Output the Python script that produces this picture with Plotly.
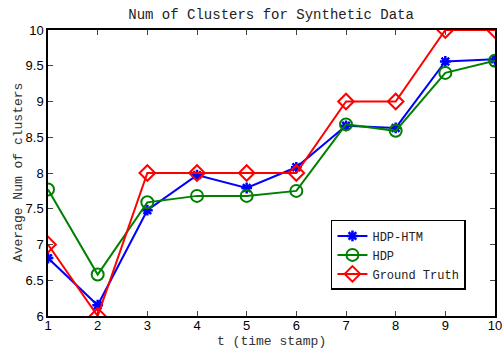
import plotly.graph_objects as go

t = [1, 2, 3, 4, 5, 6, 7, 8, 9, 10]
hdp_htm = [6.81, 6.15, 7.48, 7.97, 7.79, 8.08, 8.66, 8.63, 9.56, 9.59]
hdp = [7.77, 6.58, 7.59, 7.68, 7.68, 7.75, 8.68, 8.59, 9.40, 9.57]
ground_truth = [7, 6, 8, 8, 8, 8, 9, 9, 10, 10]

mono = "Liberation Mono, Courier New, monospace"
sans = "Liberation Sans, Arial, sans-serif"

fig = go.Figure()
fig.add_trace(go.Scatter(
    x=t, y=hdp_htm, name="HDP-HTM", mode="lines+markers",
    line=dict(color="#0000ff", width=2),
    marker=dict(symbol="asterisk-open", size=9, color="#0000ff",
                line=dict(color="#0000ff", width=2.5)),
))
fig.add_trace(go.Scatter(
    x=t, y=hdp, name="HDP", mode="lines+markers",
    line=dict(color="#008000", width=2),
    marker=dict(symbol="circle-open", size=12, color="#008000",
                line=dict(color="#008000", width=2)),
))
fig.add_trace(go.Scatter(
    x=t, y=ground_truth, name="Ground Truth", mode="lines+markers",
    line=dict(color="#ff0000", width=2),
    marker=dict(symbol="diamond-open", size=12, color="#ff0000",
                line=dict(color="#ff0000", width=2)),
))

axis_common = dict(
    ticks="inside", ticklen=5, showline=True, linecolor="black", linewidth=1.5,
    mirror="ticks", showgrid=False, zeroline=False, automargin=False,
    tickfont=dict(family=sans, size=13, color="black"),
    ticklabeloverflow="allow",
)

fig.update_layout(
    width=502, height=350,
    margin=dict(l=48, r=7, t=30, b=34),
    paper_bgcolor="white", plot_bgcolor="white",
    title=dict(text="Num of Clusters for Synthetic Data", x=0.54, xanchor="center",
               y=0.96, yanchor="middle",
               font=dict(family=mono, size=14, color="#222")),
    xaxis=dict(range=[1, 10], tickvals=t, ticklabelstandoff=-3, **axis_common),
    yaxis=dict(range=[6, 10], dtick=0.5, **axis_common),
    legend=dict(x=0.633, y=0.336, xanchor="left", yanchor="top",
                bgcolor="white", bordercolor="black", borderwidth=1.5,
                font=dict(family=mono, size=12, color="#222"),
                tracegroupgap=0, itemwidth=30),
    showlegend=True,
)

# axis titles
fig.add_annotation(text="t (time stamp)", xref="paper", yref="paper",
                   x=0.5, y=-0.1189, xanchor="center", yanchor="bottom",
                   borderpad=0, showarrow=False,
                   font=dict(family=mono, size=13, color="#333"))
fig.add_annotation(text="Average Num of clusters", xref="paper", yref="paper",
                   x=-0.067, y=0.5, xanchor="center", yanchor="middle",
                   textangle=-90, showarrow=False,
                   font=dict(family=mono, size=13, color="#333"))

fig.write_html("out.html")
